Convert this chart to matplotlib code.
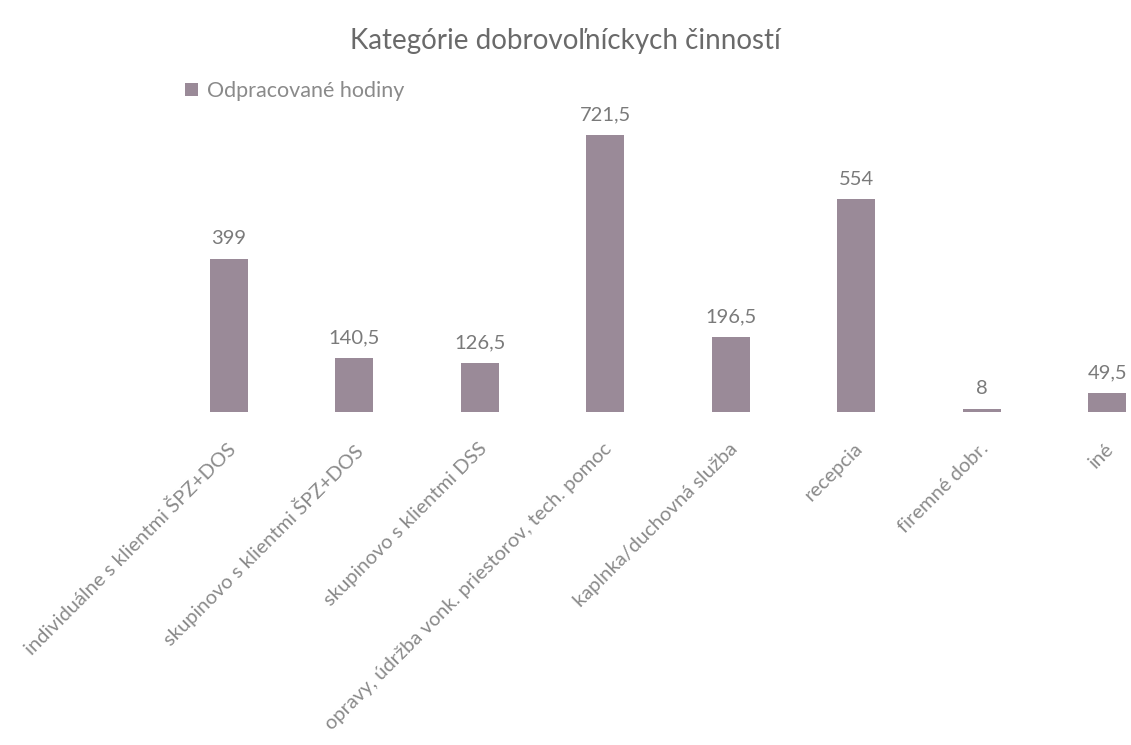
import numpy as np
import matplotlib.pyplot as plt
import matplotlib.transforms as mtransforms

plt.rcParams['font.family'] = ['Lato', 'DejaVu Sans']

# Data
categories = ['individuálne s klientmi ŠPZ+DOS', 'skupinovo s klientmi ŠPZ+DOS',
              'skupinovo s klientmi DSS', 'opravy, údržba vonk. priestorov, tech. pomoc',
              'kaplnka/duchovná služba', 'recepcia', 'firemné dobr.', 'iné']
hours = [399, 140.5, 126.5, 721.5, 196.5, 554, 8, 49.5]
value_labels = ['399', '140,5', '126,5', '721,5', '196,5', '554', '8', '49,5']

bar_color = '#9a8a98'
text_color = '#8a8a8a'

fig = plt.figure(figsize=(11.31, 7.45), dpi=100)
ax = fig.add_axes([166 / 1131, 1 - 412 / 745, (1131 - 166) / 1131, 302 / 745])

x = np.arange(len(categories))
ax.bar(x, hours, width=0.3, color=bar_color, label='Odpracované hodiny')

for xi, h, lab in zip(x, hours, value_labels):
    ax.text(xi, h + 30, lab, ha='center', va='bottom', fontsize=14.5, color='#7a7a7a')

ax.set_xlim(-0.5, -0.5 + (1131 - 166) / 125.5)
ax.set_ylim(0, 786)
ax.set_xticks(x)
ax.set_xticklabels(categories, rotation=45, ha='right', rotation_mode='anchor',
                   fontsize=14.5, color=text_color)
ax.tick_params(axis='x', length=0, pad=20)
shift = mtransforms.ScaledTranslation(-2 / 100, 0, fig.dpi_scale_trans)
for lbl in ax.get_xticklabels():
    lbl.set_transform(lbl.get_transform() + shift)
ax.set_yticks([])
for s in ax.spines.values():
    s.set_visible(False)

leg = ax.legend(loc='upper left', bbox_to_anchor=(0.0, 1.16), frameon=False,
                fontsize=15.5, handlelength=0.6, handleheight=0.6, handletextpad=0.4)
for t in leg.get_texts():
    t.set_color(text_color)

fig.text(0.5, 0.945, 'Kategórie dobrovoľníckych činností', ha='center', va='center',
         fontsize=20, color='#6a6a6a')

fig.savefig('out.png', dpi=100)
